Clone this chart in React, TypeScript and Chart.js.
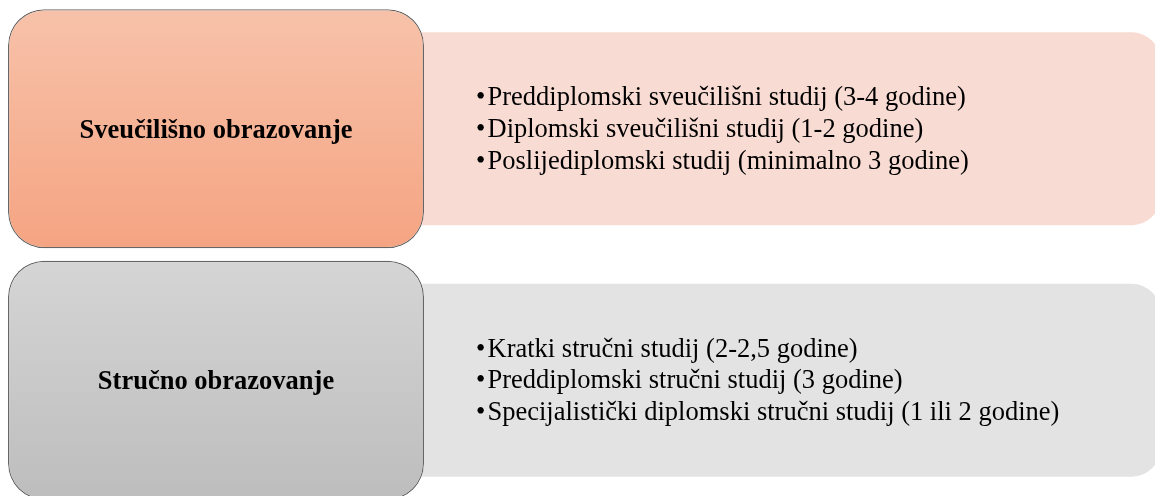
import { useEffect, useRef } from 'react';
import { Chart, registerables } from 'chart.js';

Chart.register(...registerables);

// ---- data ----
const rows: string[] = ['Sveučilišno obrazovanje', 'Stručno obrazovanje'];
const titleSpans: [number, number][] = [[8, 424], [8, 424]];
const detailSpans: [number, number][] = [[410, 1160], [410, 1160]];
const detailItems: string[][] = [
  [
    'Preddiplomski sveučilišni studij (3-4 godine)',
    'Diplomski sveučilišni studij (1-2 godine)',
    'Poslijediplomski studij (minimalno 3 godine)',
  ],
  [
    'Kratki stručni studij (2-2,5 godine)',
    'Preddiplomski stručni studij (3 godine)',
    'Specijalistički diplomski stručni studij (1 ili 2 godine)',
  ],
];

// ---- styles ----
const titleGradients: [string, string][] = [
  ['#f7c2aa', '#f5a482'],
  ['#d5d5d5', '#bdbdbd'],
];
const detailColors: string[] = ['#f8dbd3', '#e3e3e3'];
const SERIF = '"Liberation Serif", "Times New Roman", serif';
const FONT_PX = 26.5;

const textPlugin = {
  id: 'diagramText',
  afterDatasetsDraw(chart: any) {
    const ctx: CanvasRenderingContext2D = chart.ctx;
    const titleMeta = chart.getDatasetMeta(0);
    const detailMeta = chart.getDatasetMeta(1);
    ctx.save();
    ctx.fillStyle = '#000';
    rows.forEach((label, i) => {
      const tb = titleMeta.data[i];
      const db = detailMeta.data[i];
      if (!tb || !db) return;
      // title
      ctx.font = `bold ${FONT_PX}px ${SERIF}`;
      ctx.textAlign = 'center';
      ctx.textBaseline = 'alphabetic';
      const capB = ctx.measureText('H').actualBoundingBoxAscent;
      ctx.fillText(label, (tb.x + tb.base) / 2, tb.y + capB / 2);
      // bullets
      ctx.font = `${FONT_PX}px ${SERIF}`;
      ctx.textAlign = 'left';
      const cap = ctx.measureText('H').actualBoundingBoxAscent;
      const lineH = 31.75;
      const items = detailItems[i];
      const bulletX = Math.max(tb.x, tb.base) + 52;
      const textX = bulletX + 11.5;
      items.forEach((t, k) => {
        const yy = db.y + cap / 2 - 1 + (k - (items.length - 1) / 2) * lineH;
        ctx.fillText('•', bulletX, yy);
        ctx.fillText(t, textX, yy);
      });
    });
    ctx.restore();
  },
};

export default function App() {
  const ref = useRef<HTMLCanvasElement | null>(null);

  useEffect(() => {
    if (!ref.current) return;
    const chart = new Chart(ref.current, {
      type: 'bar',
      data: {
        labels: rows,
        datasets: [
          {
            label: 'titles',
            data: titleSpans as any,
            grouped: false,
            barThickness: 239,
            borderWidth: 1.3,
            borderColor: '#666666',
            borderSkipped: false,
            borderRadius: { topLeft: 36, topRight: 36, bottomLeft: 36, bottomRight: 36 },
            inflateAmount: 0,
            backgroundColor: (c: any) => {
              const idx = typeof c.dataIndex === 'number' ? c.dataIndex : 0;
              const [a, b] = titleGradients[idx] || titleGradients[0];
              if (c.type !== 'data') return a;
              const chartRef = c.chart;
              const ys = chartRef.scales && chartRef.scales.y;
              if (!ys) return a;
              const center = ys.getPixelForValue(idx);
              if (!Number.isFinite(center)) return a;
              const g = chartRef.ctx.createLinearGradient(0, center - 120, 0, center + 120);
              g.addColorStop(0, a);
              g.addColorStop(1, b);
              return g;
            },
          } as any,
          {
            label: 'details',
            data: detailSpans as any,
            grouped: false,
            barThickness: 193,
            borderWidth: 0,
            borderSkipped: false,
            borderRadius: { topLeft: 0, bottomLeft: 0, topRight: 28, bottomRight: 28 },
            inflateAmount: 0,
            backgroundColor: detailColors,
          } as any,
        ],
      },
      options: {
        indexAxis: 'y',
        animation: false,
        responsive: true,
        maintainAspectRatio: false,
        events: [],
        layout: { padding: { top: 3, bottom: 0, left: 0, right: 0 } },
        plugins: {
          legend: { display: false },
          tooltip: { enabled: false },
        },
        scales: {
          x: { type: 'linear', min: 0, max: 1155, display: false },
          y: { type: 'category', display: false, offset: true },
        },
      } as any,
      plugins: [textPlugin],
    });
    return () => chart.destroy();
  }, []);

  return (
    <div
      style={{
        position: 'fixed',
        left: 0,
        top: 0,
        width: 1155,
        height: 496,
        overflow: 'hidden',
        background: '#fff',
      }}
    >
      <div style={{ position: 'relative', width: 1155, height: 506 }}>
        <canvas ref={ref} />
      </div>
    </div>
  );
}
